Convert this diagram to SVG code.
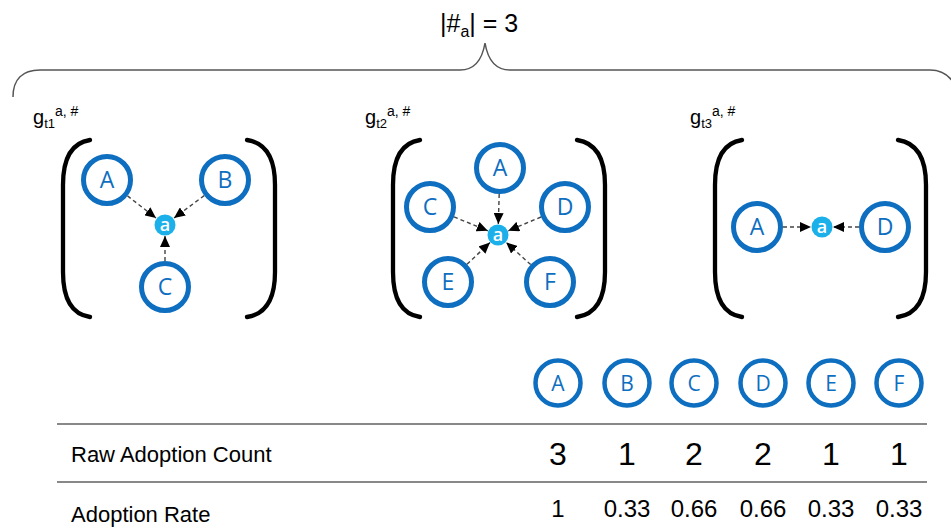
<svg xmlns="http://www.w3.org/2000/svg" width="951" height="528" viewBox="0 0 951 528">
  <style>
    .txt { font-family: "Liberation Sans", Arial, sans-serif; fill: #000; }
    .node circle { fill: #fff; stroke: #0E6EBF; stroke-width: 5; }
    .node text { font-family: "Open Sans", "DejaVu Sans", sans-serif; font-size: 23px; fill: #0E6EBF; text-anchor: middle; }
    .hub circle { fill: #1BB0EA; stroke: none; }
    .hub text { font-family: "Open Sans", "DejaVu Sans", sans-serif; font-size: 18px; font-weight: 600; fill: #fff; text-anchor: middle; }
    .legend circle { fill: #fff; stroke: #0E6EBF; stroke-width: 4.5; }
    .legend text { font-family: "Open Sans", "DejaVu Sans", sans-serif; font-size: 21px; fill: #0E6EBF; text-anchor: middle; }
    .bracket { fill: none; stroke: #000; stroke-width: 4.3; stroke-linecap: round; }
    .edge { fill: none; stroke: #444; stroke-width: 1.4; stroke-dasharray: 4 3; marker-end: url(#arrow); }
    .rule { stroke: #888; stroke-width: 2; }
    .num { font-family: "Liberation Sans", Arial, sans-serif; fill: #000; text-anchor: middle; }
  </style>
  <defs>
    <marker id="arrow" markerUnits="userSpaceOnUse" markerWidth="12" markerHeight="10" refX="11" refY="5" orient="auto">
      <path d="M0,0 L11,5 L0,10 z" fill="#000"/>
    </marker>
  </defs>

  <!-- title and brace -->
  <text class="txt" x="440" y="32" font-size="25">|#<tspan font-size="16" dy="5">a</tspan><tspan dy="-5">| = 3</tspan></text>
  <path d="M13,97 C13,80 22,70 40,70 L460,70 C478,70 483,55 485,43 C487,55 492,70 510,70 L930,70 C942,70 950,76 955,85" fill="none" stroke="#555" stroke-width="1.5"/>

  <!-- graph labels -->
  <text class="txt" x="33" y="124" font-size="20">g<tspan font-size="13" dy="4">t1</tspan><tspan font-size="14" dy="-12">a, #</tspan></text>
  <text class="txt" x="365" y="124" font-size="20">g<tspan font-size="13" dy="4">t2</tspan><tspan font-size="14" dy="-12">a, #</tspan></text>
  <text class="txt" x="690" y="124" font-size="20">g<tspan font-size="13" dy="4">t3</tspan><tspan font-size="14" dy="-12">a, #</tspan></text>

  <!-- brackets -->
  <g id="brackets">
    <path class="bracket" d="M90,140 C70,143 63,160 63,185 L63,272 C63,297 70,314 90,317"/>
    <path class="bracket" d="M247,140 C267,143 275,160 275,185 L275,272 C275,297 267,314 247,317"/>
    <path class="bracket" d="M420,140 C400,143 393,160 393,185 L393,272 C393,297 400,314 420,317"/>
    <path class="bracket" d="M577,140 C597,143 605,160 605,185 L605,272 C605,297 597,314 577,317"/>
    <path class="bracket" d="M742,140 C722,143 715,160 715,185 L715,272 C715,297 722,314 742,317"/>
    <path class="bracket" d="M898,140 C918,143 926,160 926,185 L926,272 C926,297 918,314 898,317"/>
  </g>

  <!-- connectors -->
  <g id="connectors">
    <line class="edge" x1="127.5" y1="195.9" x2="156" y2="218"/>
    <line class="edge" x1="204.2" y1="195.6" x2="174" y2="218"/>
    <line class="edge" x1="165" y1="261" x2="165" y2="236"/>

    <line class="edge" x1="499.2" y1="194" x2="498.3" y2="224"/>
    <line class="edge" x1="454" y1="216.9" x2="487.8" y2="230.8"/>
    <line class="edge" x1="541" y1="217" x2="508.2" y2="230.8"/>
    <line class="edge" x1="467" y1="264.2" x2="490" y2="242.6"/>
    <line class="edge" x1="530.7" y1="264.6" x2="506.2" y2="242.4"/>

    <line class="edge" x1="783" y1="227" x2="811" y2="227"/>
    <line class="edge" x1="859" y1="227" x2="833" y2="227"/>
  </g>

  <!-- graph t1 -->
  <g id="t1-A" class="node"><circle cx="107" cy="180" r="23.5"/><text x="107" y="188">A</text></g>
  <g id="t1-B" class="node"><circle cx="225" cy="180" r="23.5"/><text x="225" y="188">B</text></g>
  <g id="t1-C" class="node"><circle cx="165" cy="287" r="23.5"/><text x="165" y="295">C</text></g>
  <g id="t1-a" class="hub"><circle cx="165" cy="225" r="10.5"/><text x="165" y="231">a</text></g>

  <!-- graph t2 -->
  <g id="t2-A" class="node"><circle cx="500" cy="168" r="23.5"/><text x="500" y="176">A</text></g>
  <g id="t2-C" class="node"><circle cx="430" cy="207" r="23.5"/><text x="430" y="215">C</text></g>
  <g id="t2-D" class="node"><circle cx="565" cy="207" r="23.5"/><text x="565" y="215">D</text></g>
  <g id="t2-E" class="node"><circle cx="448" cy="282" r="23.5"/><text x="448" y="290">E</text></g>
  <g id="t2-F" class="node"><circle cx="550" cy="282" r="23.5"/><text x="550" y="290">F</text></g>
  <g id="t2-a" class="hub"><circle cx="498" cy="235" r="10.5"/><text x="498" y="241">a</text></g>

  <!-- graph t3 -->
  <g id="t3-A" class="node"><circle cx="757" cy="227" r="23.5"/><text x="757" y="235">A</text></g>
  <g id="t3-D" class="node"><circle cx="885" cy="227" r="23.5"/><text x="885" y="235">D</text></g>
  <g id="t3-a" class="hub"><circle cx="822" cy="227" r="10.5"/><text x="822" y="233">a</text></g>

  <!-- table header circles -->
  <g id="col-A" class="legend"><circle cx="558" cy="383" r="22.5"/><text x="558" y="390.5">A</text></g>
  <g id="col-B" class="legend"><circle cx="627" cy="383" r="22.5"/><text x="627" y="390.5">B</text></g>
  <g id="col-C" class="legend"><circle cx="694" cy="383" r="22.5"/><text x="694" y="390.5">C</text></g>
  <g id="col-D" class="legend"><circle cx="763" cy="383" r="22.5"/><text x="763" y="390.5">D</text></g>
  <g id="col-E" class="legend"><circle cx="831" cy="383" r="22.5"/><text x="831" y="390.5">E</text></g>
  <g id="col-F" class="legend"><circle cx="899" cy="383" r="22.5"/><text x="899" y="390.5">F</text></g>

  <!-- table rules -->
  <line class="rule" x1="57" y1="424" x2="927" y2="424"/>
  <line class="rule" x1="57" y1="482" x2="927" y2="482"/>

  <!-- table rows -->
  <text class="txt" x="71" y="462" font-size="22">Raw Adoption Count</text>
  <text class="txt" x="71" y="522" font-size="22">Adoption Rate</text>

  <g class="num" font-size="32">
    <text x="558" y="465">3</text>
    <text x="627" y="465">1</text>
    <text x="694" y="465">2</text>
    <text x="763" y="465">2</text>
    <text x="831" y="465">1</text>
    <text x="899" y="465">1</text>
  </g>
  <g class="num" font-size="24">
    <text x="558" y="517">1</text>
    <text x="627" y="517">0.33</text>
    <text x="694" y="517">0.66</text>
    <text x="763" y="517">0.66</text>
    <text x="831" y="517">0.33</text>
    <text x="899" y="517">0.33</text>
  </g>
</svg>
